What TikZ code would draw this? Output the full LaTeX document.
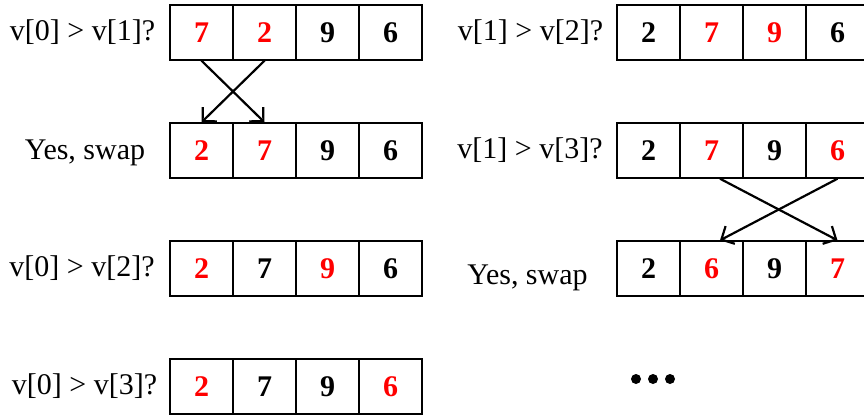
\documentclass[tikz,border=0pt]{standalone}
\usepackage{fontspec}
\setmainfont{Liberation Serif}
\usetikzlibrary{arrows.meta, positioning}
\definecolor{hotred}{HTML}{FF0000}
\tikzset{
    cellbox/.style={rectangle, draw=black, line width=1.4pt, minimum width=63pt, minimum height=55pt, inner sep=0pt, font=\fontsize{30}{36}\selectfont\bfseries},
    steplabel/.style={anchor=base, inner sep=0pt, font=\fontsize{30}{36}\selectfont},
    swaparrow/.style={-{Straight Barb[length=10pt, width=20pt]}, line width=2.2pt, black},
}
\begin{document}
\begin{tikzpicture}[x=1pt, y=-1pt]
\useasboundingbox (0,0) rectangle (864,418);
% left column: pass over v[0]
\foreach \v/\c [count=\i] in {7/hotred,2/hotred,9/black,6/black}
    \node[cellbox, text=\c] (a1c\i) at ({138.5+63*\i}, 32.5) {\v};
\foreach \v/\c [count=\i] in {2/hotred,7/hotred,9/black,6/black}
    \node[cellbox, text=\c] (a2c\i) at ({138.5+63*\i}, 150.5) {\v};
\foreach \v/\c [count=\i] in {2/hotred,7/black,9/hotred,6/black}
    \node[cellbox, text=\c] (a3c\i) at ({138.5+63*\i}, 268.5) {\v};
\foreach \v/\c [count=\i] in {2/hotred,7/black,9/black,6/hotred}
    \node[cellbox, text=\c] (a4c\i) at ({138.5+63*\i}, 386.5) {\v};
\node[steplabel] (qa1) at (82.5, 40) {v[0] > v[1]?};
\node[steplabel] (qa2) at (85, 159) {Yes, swap};
\node[steplabel] (qa3) at (82, 276.5) {v[0] > v[2]?};
\node[steplabel] (qa4) at (84.5, 394) {v[0] > v[3]?};
\draw[swaparrow] (a1c1.south) -- (a2c2.north);
\draw[swaparrow] (a1c2.south) -- (a2c1.north);
% right column: pass over v[1]
\foreach \v/\c [count=\i] in {2/black,7/hotred,9/hotred,6/black}
    \node[cellbox, text=\c] (b1c\i) at ({585.5+63*\i}, 32.5) {\v};
\foreach \v/\c [count=\i] in {2/black,7/hotred,9/black,6/hotred}
    \node[cellbox, text=\c] (b2c\i) at ({585.5+63*\i}, 150.5) {\v};
\foreach \v/\c [count=\i] in {2/black,6/hotred,9/black,7/hotred}
    \node[cellbox, text=\c] (b3c\i) at ({585.5+63*\i}, 268.5) {\v};
\node[steplabel] (qb1) at (530.5, 40) {v[1] > v[2]?};
\node[steplabel] (qb2) at (530, 158) {v[1] > v[3]?};
\node[steplabel] (qb3) at (527.5, 284) {Yes, swap};
\draw[swaparrow] ([xshift=8.5pt]b2c2.south) -- (b3c4.north);
\draw[swaparrow] (b2c4.south) -- ([xshift=8.5pt]b3c2.north);
% more passes
\foreach \x in {636,653,670}
    \fill (\x, 379) circle (5pt);
\end{tikzpicture}
\end{document}
